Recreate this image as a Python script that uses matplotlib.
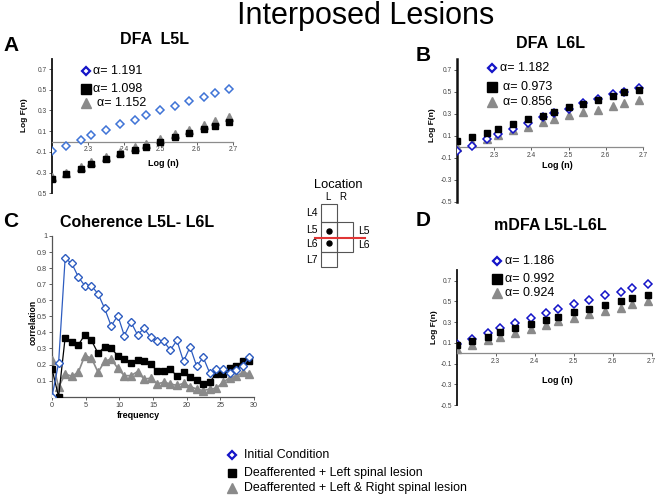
import matplotlib
matplotlib.use('Agg')
import matplotlib.pyplot as plt
from matplotlib.patches import Rectangle

plt.rcParams['font.family'] = ['Liberation Sans', 'DejaVu Sans']

# ---------------- data ----------------
log_n = [2.20, 2.24, 2.28, 2.31, 2.35, 2.39, 2.43, 2.46, 2.50, 2.54, 2.58, 2.62, 2.65, 2.69]

a_initial = [-0.087, -0.039, 0.016, 0.061, 0.113, 0.165, 0.21, 0.255, 0.30, 0.345, 0.39, 0.43, 0.468, 0.503]
a_left = [-0.361, -0.316, -0.268, -0.219, -0.171, -0.123, -0.081, -0.048, 0.0, 0.042, 0.081, 0.119, 0.152, 0.184]
a_both = [-0.339, -0.30, -0.242, -0.197, -0.145, -0.103, -0.055, -0.023, 0.029, 0.068, 0.113, 0.155, 0.20, 0.235]

b_initial = [-0.036, 0.009, 0.067, 0.112, 0.158, 0.212, 0.267, 0.303, 0.342, 0.394, 0.433, 0.476, 0.50, 0.53]
b_left = [0.052, 0.085, 0.127, 0.161, 0.203, 0.248, 0.279, 0.315, 0.358, 0.391, 0.427, 0.458, 0.494, 0.515]
b_both = [0.0, 0.036, 0.067, 0.106, 0.152, 0.182, 0.227, 0.255, 0.285, 0.312, 0.333, 0.370, 0.40, 0.424]

d_initial = [0.093, 0.141, 0.198, 0.243, 0.291, 0.339, 0.387, 0.429, 0.47, 0.515, 0.557, 0.595, 0.63, 0.669]
d_left = [0.077, 0.115, 0.157, 0.205, 0.243, 0.285, 0.317, 0.349, 0.394, 0.426, 0.461, 0.499, 0.528, 0.563]
d_both = [0.045, 0.083, 0.125, 0.157, 0.198, 0.237, 0.275, 0.31, 0.342, 0.381, 0.406, 0.438, 0.47, 0.499]

freq = [0.0, 0.98, 1.95, 2.93, 3.91, 4.88, 5.86, 6.84, 7.81, 8.79, 9.77, 10.74, 11.72,
        12.70, 13.67, 14.65, 15.63, 16.60, 17.58, 18.55, 19.53, 20.51, 21.48, 22.46,
        23.44, 24.41, 25.39, 26.37, 27.34, 28.32, 29.30]
c_initial = [0.0, 0.21, 0.86, 0.83, 0.745, 0.69, 0.69, 0.64, 0.55, 0.44, 0.505, 0.38, 0.465,
             0.385, 0.425, 0.37, 0.344, 0.344, 0.29, 0.35, 0.22, 0.31, 0.19, 0.245,
             0.146, 0.173, 0.173, 0.148, 0.167, 0.19, 0.245]
c_left = [0.173, 0.0, 0.367, 0.34, 0.323, 0.385, 0.35, 0.27, 0.31, 0.30, 0.256, 0.235, 0.21,
          0.23, 0.225, 0.205, 0.158, 0.158, 0.173, 0.127, 0.152, 0.12, 0.106, 0.08,
          0.094, 0.142, 0.142, 0.18, 0.188, 0.22, 0.22]
c_both = [0.23, 0.06, 0.142, 0.127, 0.152, 0.256, 0.24, 0.152, 0.22, 0.235, 0.177, 0.131, 0.131,
          0.156, 0.11, 0.115, 0.08, 0.09, 0.08, 0.07, 0.083, 0.063, 0.048, 0.038,
          0.048, 0.052, 0.09, 0.117, 0.127, 0.152, 0.142]

alpha_a = ['1.191', '1.098', '1.152']
alpha_b = ['1.182', '0.973', '0.856']
alpha_d = ['1.186', '0.992', '0.924']

legend_labels = ['Initial Condition', 'Deafferented + Left spinal lesion',
                 'Deafferented + Left & Right spinal lesion']

dfa_yticks = [0.7, 0.5, 0.3, 0.1, -0.1, -0.3, -0.5]
dfa_xticks = [2.3, 2.4, 2.5, 2.6, 2.7]
c_yticks = [0.1, 0.2, 0.3, 0.4, 0.5, 0.6, 0.7, 0.8, 0.9, 1.0]
c_xticks = [0, 5, 10, 15, 20, 25, 30]

# ---------------- layout ----------------
W, H = 661, 498
fig = plt.figure(figsize=(W / 100, H / 100), dpi=100)

BLUE_DARK = '#1414c8'
BLUE_LIGHT = '#3f74d6'
GRAY = '#8a8a8a'


def ax_px(left, top, right, bottom):
    return fig.add_axes([left / W, 1 - bottom / H, (right - left) / W, (bottom - top) / H])


def dfa_panel(ax, ys, blue, ylabels, lw_left):
    ini, left, both = ys
    ax.set_xlim(2.2, 2.7)
    ax.set_ylim(-0.5, 0.8)
    for s in ['top', 'right']:
        ax.spines[s].set_visible(False)
    ax.spines['bottom'].set_position(('data', 0))
    ax.spines['bottom'].set_color('#8c8c8c')
    ax.spines['bottom'].set_linewidth(0.9)
    ax.spines['left'].set_color('#111111')
    ax.spines['left'].set_linewidth(lw_left)
    ax.set_yticks(dfa_yticks)
    ax.set_yticklabels(ylabels)
    ax.set_xticks(dfa_xticks)
    ax.set_xticklabels([f'{v:.1f}' for v in dfa_xticks])
    ax.tick_params(axis='both', labelsize=4.8, length=2, width=0.6, colors='#444444', pad=1.5)
    ax.patch.set_alpha(0)
    ax.plot(log_n, both, linestyle='none', marker='^', ms=5.4, color=GRAY, mec=GRAY, zorder=3)
    ax.plot(log_n, ini, linestyle='none', marker='D', ms=3.8, mfc='white', mec=blue, mew=1.1, zorder=4)
    ax.plot(log_n, left, linestyle='none', marker='s', ms=4.8, color='black', zorder=5)


axA = ax_px(51.5, 58.7, 233, 193.3)
dfa_panel(axA, (a_initial, a_left, a_both), BLUE_LIGHT,
          ['0.7', '0.5', '0.3', '0.1', '-0.1', '-0.3', '0.5'], 1.3)

axB = ax_px(457, 58.7, 643, 201.7)
dfa_panel(axB, (b_initial, b_left, b_both), BLUE_DARK,
          ['0.7', '0.5', '0.3', '0.1', '-0.1', '-0.3', '-0.5'], 1.8)

axD = ax_px(456.7, 270.3, 651.7, 405)
dfa_panel(axD, (d_initial, d_left, d_both), BLUE_DARK,
          ['0.7', '0.5', '0.3', '0.1', '-0.1', '-0.3', '-0.5'], 1.3)

# Coherence panel
axC = ax_px(52, 236, 254, 396.7)
axC.set_xlim(0, 30)
axC.set_ylim(0, 1)
for s in ['top', 'right']:
    axC.spines[s].set_visible(False)
for s in ['left', 'bottom']:
    axC.spines[s].set_color('#555555')
    axC.spines[s].set_linewidth(0.9)
axC.set_yticks(c_yticks)
axC.set_yticklabels(['0.1', '0.2', '0.3', '0.4', '0.5', '0.6', '0.7', '0.8', '0.9', '1'])
axC.set_xticks(c_xticks)
axC.tick_params(axis='both', labelsize=5.2, length=2, width=0.6, colors='#444444', pad=1.5)
axC.patch.set_alpha(0)
axC.plot(freq, c_both, color=GRAY, lw=1.2, marker='^', ms=5.2, mec=GRAY, zorder=3)
axC.plot(freq, c_left, color='black', lw=0.9, marker='s', ms=4.8, zorder=4)
axC.plot(freq, c_initial, color='#2d5cc0', lw=0.9, marker='D', ms=3.9, mfc='white',
         mec='#2d5cc0', mew=1.0, zorder=5)

# ---------------- overlay (texts, legends, schematic) ----------------
ov = fig.add_axes([0, 0, 1, 1])
ov.set_xlim(0, W)
ov.set_ylim(H, 0)
ov.axis('off')

ov.text(366, 16, 'Interposed Lesions', fontsize=22, ha='center', va='center')

for letter, x, y in [('A', 11, 45), ('B', 423, 55), ('C', 11, 221), ('D', 423, 220)]:
    ov.text(x, y, letter, fontsize=15, fontweight='bold', ha='center', va='center')

for title, x, y in [('DFA  L5L', 155, 39), ('DFA  L6L', 550, 43),
                    ('Coherence L5L- L6L', 137, 222), ('mDFA L5L-L6L', 550, 225)]:
    ov.text(x, y, title, fontsize=11.5, fontweight='bold', ha='center', va='center')

# axis labels
for x, y in [(25, 115), (432, 125), (435, 327)]:
    ov.text(x, y, 'Log F(n)', fontsize=6, fontweight='bold', rotation=90, ha='center', va='center')
for x, y in [(163, 163), (557, 165), (557, 380)]:
    ov.text(x, y, 'Log (n)', fontsize=6.5, fontweight='bold', ha='center', va='center')
ov.text(33, 322, 'correlation', fontsize=6.2, fontweight='bold', rotation=90, ha='center', va='center')
ov.text(138, 415, 'frequency', fontsize=6.5, fontweight='bold', ha='center', va='center')


def alpha_legend(mx, ys, tx, vals):
    ov.plot(mx, ys[0], marker='D', ms=4.2, mfc='white', mec=BLUE_DARK, mew=1.6, linestyle='none')
    ov.plot(mx, ys[1], marker='s', ms=6.5, color='black', linestyle='none')
    ov.plot(mx, ys[2], marker='^', ms=7, color=GRAY, linestyle='none')
    for y, t, v in zip(ys, tx, vals):
        ov.text(t, y, '\u03b1= ' + v, fontsize=9, ha='left', va='center')


alpha_legend(86, [71, 89, 103], [93, 93, 97], alpha_a)
alpha_legend(492, [68, 87, 102], [500, 503, 503], alpha_b)
alpha_legend(497, [261, 279, 293], [505, 505, 505], alpha_d)

# bottom legend
ov.plot(232, 455, marker='D', ms=4.2, mfc='white', mec=BLUE_DARK, mew=1.6, linestyle='none')
ov.plot(232, 472.7, marker='s', ms=6, color='black', linestyle='none')
ov.plot(232, 488, marker='^', ms=6.5, color=GRAY, linestyle='none')
for y, lab in zip([455, 472.7, 488], legend_labels):
    ov.text(244, y, lab, fontsize=8.9, ha='left', va='center')

# location schematic
ov.text(338, 185, 'Location', fontsize=9.3, ha='center', va='center',
        family=['Liberation Sans Narrow', 'Liberation Sans', 'DejaVu Sans'])
ov.text(328, 197, 'L', fontsize=7, ha='center', va='center')
ov.text(343, 197, 'R', fontsize=7, ha='center', va='center')
box_kw = dict(fill=False, edgecolor='#555555', lw=0.8)
ov.add_patch(Rectangle((320.7, 204.3), 16, 17.4, **box_kw))
ov.add_patch(Rectangle((320.7, 221.7), 16, 30, **box_kw))
ov.add_patch(Rectangle((320.7, 251.7), 16, 15, **box_kw))
ov.add_patch(Rectangle((336.7, 221.7), 16.6, 30, **box_kw))
ov.plot([315, 365], [237.7, 237.7], color='#e03535', lw=1.5)
ov.plot([329, 329], [231, 242.7], linestyle='none', marker='o', ms=3.6, color='black')
for lab, x, y in [('L4', 312, 213), ('L5', 312, 229.5), ('L6', 312, 243.5), ('L7', 312, 260),
                  ('L5', 364, 231), ('L6', 364, 245)]:
    ov.text(x, y, lab, fontsize=7.5, ha='center', va='center')

fig.savefig('out.png', dpi=100)
